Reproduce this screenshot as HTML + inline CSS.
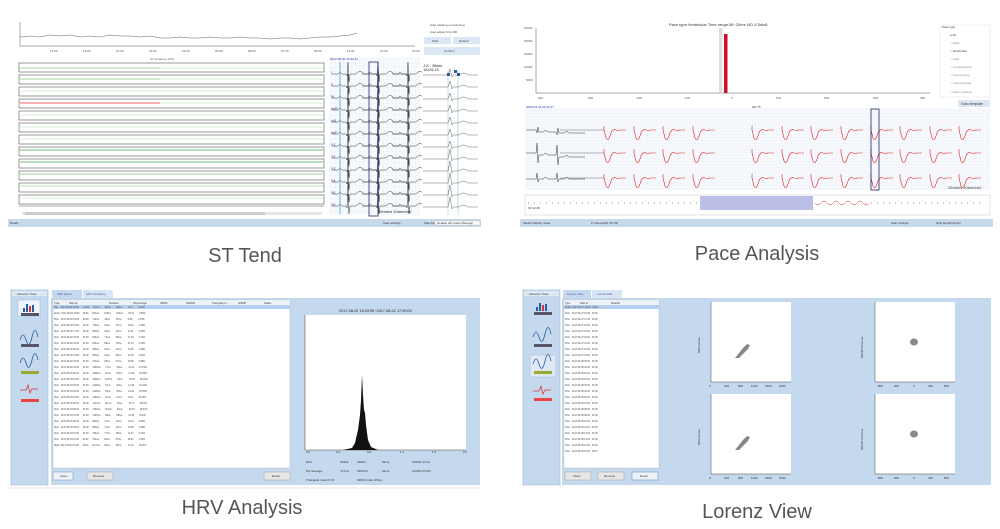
<!DOCTYPE html>
<html><head><meta charset="utf-8"><style>
body{margin:0;width:1000px;height:529px;background:#fff;position:relative;overflow:hidden;font-family:"Liberation Sans",sans-serif}
.a{position:absolute}
.cap{position:absolute;font-size:20px;color:#555;text-align:center;width:300px}
svg text{white-space:pre}
</style></head><body>
<svg class="a" style="left:0;top:0" width="1000" height="529" viewBox="0 0 1000 529">
<defs>
<pattern id="g" width="4" height="4" patternUnits="userSpaceOnUse"><path d="M4 0V4H0" fill="none" stroke="#c9dcef" stroke-width="0.4"/></pattern>
<pattern id="g2" width="3" height="3" patternUnits="userSpaceOnUse"><path d="M3 0V3H0" fill="none" stroke="#d6e4f2" stroke-width="0.4"/></pattern>
<path id="beat" d="M0 0H6q2-3 4 0H14l1 2 1-14 1 20 1-8H24q4-5 8 0H45" fill="none" stroke="#333" stroke-width="0.5"/>
<path id="pbeat" d="M0 0v-4v4l2 8q2 4 4-2 2-8 6-6 3 1 4 0H22" fill="none" stroke="#d22" stroke-width="0.6"/>
</defs>
<!-- ST panel -->
<rect x="8" y="15" width="475" height="213" fill="#fff"/>
<line x1="20" y1="46" x2="415" y2="46" stroke="#555" stroke-width="0.5"/>
<line x1="20" y1="22" x2="20" y2="46" stroke="#555" stroke-width="0.5"/>
<path d="M20 37 l10-1 10 1 10-2 10 1 10 -1 10 2 10-1 10 1 10-2 10 1 10 0 10 1 10-1 10 2 10 0 10-1 10 1 10 0 10 -1 10 1 10 0 10-1 10 1 10 0 10 1 10-1 10 0 10 1 10-1 10-1 10 0 10 -1 10 -1 7 -2" fill="none" stroke="#666" stroke-width="0.6"/>
<g font-size="3" fill="#555"><text x="50" y="52">17:00</text><text x="83" y="52">19:00</text><text x="116" y="52">21:00</text><text x="149" y="52">23:00</text><text x="182" y="52">01:00</text><text x="215" y="52">03:00</text><text x="248" y="52">05:00</text><text x="281" y="52">07:00</text><text x="314" y="52">09:00</text><text x="347" y="52">11:00</text><text x="380" y="52">13:00</text><text x="412" y="52">15:00</text>
<text x="150" y="60">ST tendency (mV)</text></g>
<rect x="424" y="37" width="27" height="7" fill="#dbe7f4"/><rect x="453" y="37" width="27" height="7" fill="#dbe7f4"/><rect x="424" y="47" width="56" height="8" fill="#dbe7f4"/>
<g font-size="3" fill="#444"><text x="430" y="26">Auto tracking on scanning</text><text x="430" y="33">Auto adjust K by RR</text><text x="432" y="42">Start</text><text x="459" y="42">Default</text><text x="444" y="52">Confirm</text></g>
<g id="strows">
<rect x="19" y="63" width="305" height="9" fill="#fff" stroke="#555" stroke-width="0.6"/><line x1="20" y1="68" x2="160" y2="68" stroke="#4a4" stroke-width="0.6"/><line x1="160" y1="68" x2="323" y2="68" stroke="#9d9" stroke-width="0.4"/>
<rect x="19" y="75" width="305" height="9" fill="#fff" stroke="#555" stroke-width="0.6"/><line x1="20" y1="79" x2="160" y2="79" stroke="#4a4" stroke-width="0.6"/><line x1="160" y1="79" x2="323" y2="79" stroke="#9d9" stroke-width="0.4"/>
<rect x="19" y="87" width="305" height="9" fill="#fff" stroke="#555" stroke-width="0.6"/><line x1="20" y1="91" x2="323" y2="91" stroke="#9d9" stroke-width="0.4"/>
<rect x="19" y="99" width="305" height="9" fill="#fff" stroke="#555" stroke-width="0.6"/><line x1="20" y1="103" x2="160" y2="103" stroke="#e33" stroke-width="0.8"/><line x1="160" y1="103" x2="323" y2="103" stroke="#9d9" stroke-width="0.4"/>
<rect x="19" y="111" width="305" height="9" fill="#fff" stroke="#555" stroke-width="0.6"/><line x1="20" y1="115" x2="323" y2="115" stroke="#9d9" stroke-width="0.4"/>
<rect x="19" y="123" width="305" height="9" fill="#fff" stroke="#555" stroke-width="0.6"/><line x1="20" y1="127" x2="323" y2="127" stroke="#9d9" stroke-width="0.4"/>
<rect x="19" y="135" width="305" height="9" fill="#fff" stroke="#555" stroke-width="0.6"/><line x1="20" y1="139" x2="323" y2="139" stroke="#9d9" stroke-width="0.4"/>
<rect x="19" y="147" width="305" height="9" fill="#fff" stroke="#555" stroke-width="0.6"/><line x1="20" y1="150" x2="323" y2="150" stroke="#4a4" stroke-width="0.7"/>
<rect x="19" y="159" width="305" height="9" fill="#fff" stroke="#555" stroke-width="0.6"/><line x1="20" y1="162" x2="323" y2="162" stroke="#4a4" stroke-width="0.7"/>
<rect x="19" y="171" width="305" height="9" fill="#fff" stroke="#555" stroke-width="0.6"/><line x1="20" y1="174" x2="323" y2="174" stroke="#4a4" stroke-width="0.6"/>
<rect x="19" y="183" width="305" height="9" fill="#fff" stroke="#555" stroke-width="0.6"/><line x1="20" y1="186" x2="323" y2="186" stroke="#7c7" stroke-width="0.5"/>
<rect x="19" y="195" width="305" height="9" fill="#fff" stroke="#555" stroke-width="0.6"/><line x1="20" y1="198" x2="323" y2="198" stroke="#9d9" stroke-width="0.4"/>
</g>
<line x1="19" y1="206" x2="324" y2="206" stroke="#555" stroke-width="0.5"/>
<rect x="22" y="212" width="300" height="3" fill="#e6e6e6"/><rect x="25" y="212" width="240" height="3" fill="#ccc"/>
<rect x="329" y="57" width="91" height="158" fill="url(#g)"/><rect x="329" y="57" width="91" height="158" fill="#eef4fb" opacity="0.4"/>
<g font-size="3" fill="#33a"><text x="330" y="60">2017-08-02 15:04:12</text></g>
<g fill="#338" font-size="3.5"><text x="331" y="74">I</text><text x="331" y="86">II</text><text x="331" y="98">III</text><text x="331" y="110">aVR</text><text x="331" y="122">aVL</text><text x="331" y="134">aVF</text><text x="331" y="146">V1</text><text x="331" y="158">V2</text><text x="331" y="170">V3</text><text x="331" y="182">V4</text><text x="331" y="194">V5</text><text x="331" y="206">V6</text></g>
<g id="ecgcol"><use href="#beat" x="332" y="74"/><use href="#beat" x="362" y="74"/><use href="#beat" x="392" y="74"/></g>
<use href="#ecgcol" y="12"/><use href="#ecgcol" y="24"/><use href="#ecgcol" y="36"/><use href="#ecgcol" y="48"/><use href="#ecgcol" y="60"/><use href="#ecgcol" y="72"/><use href="#ecgcol" y="84"/><use href="#ecgcol" y="96"/><use href="#ecgcol" y="108"/><use href="#ecgcol" y="120"/><use href="#ecgcol" y="132"/>
<line x1="340" y1="62" x2="340" y2="214" stroke="#3ad" stroke-width="0.8"/>
<rect x="369" y="62" width="9" height="154" fill="none" stroke="#226" stroke-width="0.8"/>
<text x="378" y="213" font-size="4" fill="#222">25mm/s 10mm/mV</text>
<rect x="422" y="62" width="58" height="153" fill="#fff"/>
<text x="423" y="67" font-size="4" fill="#222">J-K : 58ms</text><text x="423" y="71" font-size="4" fill="#222">15:04:13</text>
<line x1="448" y1="70" x2="448" y2="215" stroke="#8cd" stroke-width="0.6"/><line x1="458" y1="70" x2="458" y2="215" stroke="#8cd" stroke-width="0.6"/>
<rect x="447" y="73" width="3" height="3" fill="#2d5aa8"/><rect x="454" y="70" width="3" height="3" fill="#2d5aa8"/><rect x="457" y="73" width="3" height="3" fill="#2d5aa8"/>
<g stroke="#444" fill="none" stroke-width="0.4"><path d="M423 75H448l2-6 2 8 1-2h6q5-4 9 0h10"/><path d="M423 87H448l2-6 2 8 1-2h6q5-4 9 0h10"/><path d="M423 99H448l2-6 2 8 1-2h6q5-4 9 0h10"/><path d="M423 111H448l2-6 2 8 1-2h6q5-4 9 0h10"/><path d="M423 123H448l2-6 2 8 1-2h6q5-4 9 0h10"/><path d="M423 135H448l2-6 2 8 1-2h6q5-4 9 0h10"/><path d="M423 147H448l2-6 2 8 1-2h6q5-4 9 0h10"/><path d="M423 159H448l2-10 2 12 1-2h6q5-4 9 0h10"/><path d="M423 171H448l2-10 2 12 1-2h6q5-4 9 0h10"/><path d="M423 183H448l2-10 2 12 1-2h6q5-4 9 0h10"/><path d="M423 195H448l2-10 2 12 1-2h6q5-4 9 0h10"/><path d="M423 207H448l2-10 2 12 1-2h6q5-4 9 0h10"/></g>
<rect x="8" y="219" width="473" height="8" fill="#c8d9ec"/><rect x="435" y="221" width="45" height="4" fill="#fff" stroke="#99a" stroke-width="0.3"/>
<g font-size="3" fill="#333"><text x="10" y="224">Ready</text><text x="383" y="224">Gain settings</text><text x="424" y="224">Step len</text><text x="437" y="224">Realtek HD Audio Manager</text></g>

<!-- Pace panel -->
<line x1="536" y1="93" x2="930" y2="93" stroke="#555" stroke-width="0.5"/><line x1="536" y1="28" x2="536" y2="93" stroke="#555" stroke-width="0.5"/>
<text x="669" y="26" font-size="4" fill="#333">Pace type:Ventricular Time range:38~20ms NO.1/Total1</text>
<g font-size="3" fill="#555"><text x="524" y="29">40000</text><text x="524" y="42">30000</text><text x="524" y="55">20000</text><text x="524" y="68">10000</text><text x="526" y="81">5000</text><text x="537" y="99">-400</text><text x="587" y="99">-300</text><text x="636" y="99">-200</text><text x="684" y="99">-100</text><text x="731" y="99">0</text><text x="776" y="99">100</text><text x="824" y="99">200</text><text x="873" y="99">300</text><text x="920" y="99">400</text></g>
<rect x="719" y="28" width="3.5" height="65" fill="#ddd"/><rect x="724" y="34" width="3.5" height="59" fill="#c8102e"/>
<rect x="940" y="25" width="50" height="72" fill="#fff" stroke="#ddd" stroke-width="0.4"/>
<g font-size="3" fill="#888"><text x="942" y="28" fill="#333">Pace type</text><text x="950" y="36" fill="#333">● All</text><text x="950" y="44">○ Atrial</text><text x="950" y="52" fill="#333">○ Ventricular</text><text x="950" y="60">○ Dual</text><text x="950" y="68">○ Uncategorized</text><text x="950" y="76">○ Oversensing</text><text x="950" y="84">○ Undersensing</text><text x="950" y="93">○ Fail to capture</text></g>
<rect x="958" y="100" width="32" height="7" fill="#dbe7f4"/><text x="961" y="105" font-size="3.5" fill="#333">Goto template</text>
<rect x="525" y="108" width="465" height="82" fill="url(#g2)"/><rect x="525" y="108" width="465" height="82" fill="#eaf2fa" opacity="0.35"/>
<text x="526" y="108" font-size="3" fill="#33a">2000-01-02 00:43:47</text><text x="752" y="108" font-size="3" fill="#333">HR 75</text>
<g fill="none" stroke="#333" stroke-width="0.5"><path d="M526 130h10l1 3 1-6 1 5h4q3-3 5 0h8l1 3 1-7 1 5h5q3-3 5 0h16"/><path d="M526 153h10l1-10 1 20 1-8h4q3-3 5 0h8l1-10 1 20 1-8h5q3-3 5 0h16"/><path d="M526 179h10l1-6 1 9 1-3h4q3-3 5 0h8l1-6 1 9 1-3h5q3-3 5 0h16"/></g>
<g id="pcol"><use href="#pbeat" x="604" y="130"/><use href="#pbeat" x="634" y="130"/><use href="#pbeat" x="663" y="130"/><use href="#pbeat" x="693" y="130"/><use href="#pbeat" x="752" y="130"/><use href="#pbeat" x="782" y="130"/><use href="#pbeat" x="811" y="130"/><use href="#pbeat" x="841" y="130"/><use href="#pbeat" x="871" y="130"/><use href="#pbeat" x="900" y="130"/><use href="#pbeat" x="930" y="130"/><use href="#pbeat" x="959" y="130"/></g>
<use href="#pcol" y="23"/>
<use href="#pcol" y="48"/>
<path d="M560 130h44M560 153h44M560 178h44" stroke="#444" stroke-width="0.4"/>
<rect x="871" y="109" width="8" height="81" fill="none" stroke="#226" stroke-width="0.8"/>
<text x="948" y="189" font-size="4" fill="#333">25mm/s 10mm/mV</text>
<rect x="525" y="195" width="465" height="20" fill="#fff" stroke="#bbb" stroke-width="0.4"/>
<rect x="700" y="196" width="113" height="14" fill="#9ea3dd" opacity="0.7"/>
<path d="M528 203h170" stroke="#333" stroke-width="0.5" stroke-dasharray="1 5"/>
<path d="M815 203q3 4 6 0t6 0t6 0t6 0t6 0t6 0t6 0t6 0t6 0" fill="none" stroke="#d33" stroke-width="0.5"/>
<path d="M865 203h120" stroke="#333" stroke-width="0.5" stroke-dasharray="1 5"/>
<text x="528" y="209" font-size="3" fill="#333">00:42:48</text>
<rect x="520" y="219" width="473" height="8" fill="#c8d9ec"/>
<g font-size="3" fill="#333"><text x="523" y="224">Switch display mode</text><text x="591" y="224">2 channels(II V2 V5)</text><text x="891" y="224">Gain settings</text><text x="936" y="224">Strip length(20.0s)</text></g>

<!-- HRV panel -->
<rect x="11" y="290" width="37" height="195" fill="#c5d9ee" stroke="#9bb8d8" stroke-width="0.6"/>
<rect x="12" y="291" width="35" height="5" fill="#dfe9f5"/><text x="17" y="295" font-size="3" fill="#333">Advance Tools</text>
<rect x="18" y="300" width="22" height="16" fill="#eef4fb" stroke="#9bb8d8" stroke-width="0.5"/>
<g fill="#2a5aa0"><rect x="23" y="308" width="2" height="4"/><rect x="26" y="304" width="2" height="8"/><rect x="29" y="306" width="2" height="6" fill="#d33"/><rect x="32" y="305" width="2" height="7"/></g>
<rect x="21" y="313" width="18" height="3" fill="#556"/>
<path d="M20 340q3-10 6 0t6-3 6 0" fill="none" stroke="#2a5aa0" stroke-width="0.8"/><rect x="21" y="344" width="18" height="3" fill="#556"/>
<path d="M20 363q3-10 6 0t6-3 6 0" fill="none" stroke="#2a5aa0" stroke-width="0.8"/><rect x="21" y="371" width="18" height="3" fill="#9a3"/>
<path d="M20 390h6l2-5 2 8 2-4h6" fill="none" stroke="#d33" stroke-width="0.8"/><rect x="21" y="399" width="18" height="3" fill="#e44"/>
<rect x="51" y="298" width="429" height="187" fill="#c5d9ee"/>
<rect x="52" y="290" width="30" height="8" fill="#c5d9ee"/><rect x="83" y="290" width="30" height="8" fill="#d8e5f3"/>
<g font-size="3" fill="#55a"><text x="57" y="295">HRV Event</text><text x="86" y="295">HRV Tendency</text></g>
<rect x="53" y="300" width="237" height="168" fill="#fff" stroke="#99b" stroke-width="0.3"/>
<rect x="53" y="300" width="237" height="5" fill="#eef2f7"/>
<rect x="53" y="305" width="237" height="4" fill="#b5d0ee"/>
<g font-size="2.6" fill="#333"><text x="54" y="304">Type</text><text x="69" y="304">Start at</text><text x="109" y="304">Duration</text><text x="133" y="304">NN average</text><text x="160" y="304">SDNN</text><text x="186" y="304">SDANN</text><text x="212" y="304">Triangular in...</text><text x="238" y="304">pNN50</text><text x="264" y="304">Status</text></g>
<g font-size="2.3" fill="#444">
<text x="54" y="308">Day    2017-08-02 16:00       01:00      747ms        52ms         36ms          9.74         0.51%</text>
<text x="54" y="314">Entire  2017-08-02 15:00     20:59      920ms        108ms        100ms        33.31        0.86%</text>
<text x="54" y="320">Hour   2017-08-02 15:00      00:58      742ms        49ms         32ms          8.60         0.75%</text>
<text x="54" y="326">Hour   2017-08-02 16:00      01:00      735ms        51ms         37ms          10.84        0.38%</text>
<text x="54" y="332">Hour   2017-08-02 17:00      01:00      809ms        45ms         42ms          13.01        0.05%</text>
<text x="54" y="338">Hour   2017-08-02 18:00      01:00      815ms        71ms         58ms          17.18        1.74%</text>
<text x="54" y="344">Hour   2017-08-02 19:00      01:00      834ms        89ms         75ms          21.34        2.36%</text>
<text x="54" y="350">Hour   2017-08-02 20:00      01:00      838ms        61ms         42ms          13.95        1.28%</text>
<text x="54" y="356">Hour   2017-08-02 21:00      01:00      905ms        61ms         69ms          14.94        2.61%</text>
<text x="54" y="362">Hour   2017-08-02 22:00      01:00      872ms        86ms         67ms          16.58        2.88%</text>
<text x="54" y="368">Hour   2017-08-02 23:00      01:00      1084ms       77ms         36ms          11.22        14.75%</text>
<text x="54" y="374">Hour   2017-08-03 00:00      01:00      1088ms       61ms         53ms          17.06        15.35%</text>
<text x="54" y="380">Hour   2017-08-03 01:00      01:00      1099ms       107ms        73ms          18.09        26.22%</text>
<text x="54" y="386">Hour   2017-08-03 02:00      01:00      1128ms       73ms         38ms          14.38        16.22%</text>
<text x="54" y="392">Hour   2017-08-03 03:00      01:00      1140ms       78ms         32ms          13.02        18.55%</text>
<text x="54" y="398">Hour   2017-08-03 04:00      01:00      1162ms       72ms         24ms          9.45         25.30%</text>
<text x="54" y="404">Hour   2017-08-03 05:00      01:00      1127ms       111ms        75ms          15.71        18.57%</text>
<text x="54" y="410">Hour   2017-08-03 06:00      01:00      1153ms       101ms        63ms          18.23        18.57%</text>
<text x="54" y="416">Hour   2017-08-03 07:00      01:00      1046ms       63ms         58ms          11.38        3.32%</text>
<text x="54" y="422">Hour   2017-08-03 08:00      01:00      882ms        71ms         44ms          13.44        0.88%</text>
<text x="54" y="428">Hour   2017-08-03 09:00      01:00      805ms        71ms         40ms          13.88        1.88%</text>
<text x="54" y="434">Hour   2017-08-03 10:00      01:00      780ms        77ms         38ms          14.47        0.44%</text>
<text x="54" y="440">Hour   2017-08-03 11:00      00:02      794ms        84ms         57ms          18.83        1.49%</text>
<text x="54" y="446">Night  2017-08-03 13:00      06:00      1117ms       86ms         59ms          17.15        18.47%</text>
</g>
<rect x="53" y="472" width="20" height="8" fill="#eef2f7" stroke="#6a9ad0" stroke-width="0.5"/><rect x="87" y="472" width="26" height="8" fill="#e6e6e6" stroke="#999" stroke-width="0.4"/><rect x="264" y="472" width="26" height="8" fill="#e6e6e6" stroke="#999" stroke-width="0.4"/>
<g font-size="3" fill="#333"><text x="60" y="477">Insert</text><text x="93" y="477">Remove</text><text x="272" y="477">Reset</text></g>
<rect x="293" y="300" width="184" height="168" fill="#c5d9ee"/>
<text x="339" y="312" font-size="3.8" fill="#222">2017-08-02 15:03:55~2017-08-02 17:00:00</text>
<rect x="305" y="315" width="161" height="135" fill="#fff"/>
<path d="M305 315v135h161" stroke="#444" stroke-width="0.5" fill="none"/>
<path d="M343 450 L352 448 355 443 358 430 360 415 361 400 362 375 363 395 364 410 365 413 366 425 368 440 371 447 378 450Z" fill="#111"/>
<g font-size="3" fill="#333"><text x="306" y="453">0.0</text><text x="336" y="453">0.4</text><text x="367" y="453">0.8</text><text x="400" y="453">1.2</text><text x="432" y="453">1.6</text><text x="463" y="453">2.0</text>
<text x="306" y="463">NNs:</text><text x="340" y="463">92918</text><text x="357" y="463">SDNN:</text><text x="382" y="463">52ms</text><text x="412" y="463">rMSSD:13ms</text>
<text x="306" y="472">NN average:</text><text x="340" y="472">747ms</text><text x="357" y="472">SDANN:</text><text x="382" y="472">36ms</text><text x="412" y="472">pNN50:0.51%</text>
<text x="306" y="481">Triangular index:9.74</text><text x="357" y="481">SDNN Index:35ms</text></g>
<line x1="8" y1="488" x2="480" y2="488" stroke="#e4e4e4"/>

<!-- Lorenz panel -->
<rect x="523" y="290" width="37" height="195" fill="#c5d9ee" stroke="#9bb8d8" stroke-width="0.6"/>
<rect x="524" y="291" width="35" height="5" fill="#dfe9f5"/><text x="529" y="295" font-size="3" fill="#333">Advance Tools</text>
<g fill="#2a5aa0"><rect x="536" y="307" width="2" height="4"/><rect x="539" y="303" width="2" height="8"/><rect x="542" y="305" width="2" height="6" fill="#d33"/><rect x="545" y="304" width="2" height="7"/></g>
<rect x="534" y="312" width="18" height="3" fill="#556"/>
<path d="M533 337q3-10 6 0t6-3 6 0" fill="none" stroke="#2a5aa0" stroke-width="0.8"/><rect x="534" y="344" width="18" height="3" fill="#556"/>
<rect x="530" y="355" width="26" height="22" fill="#dfe9f5" stroke="#9bb8d8" stroke-width="0.5"/>
<path d="M533 364q3-10 6 0t6-3 6 0" fill="none" stroke="#2a5aa0" stroke-width="0.8"/><rect x="534" y="371" width="18" height="3" fill="#9a3"/>
<path d="M533 391h6l2-5 2 8 2-4h6" fill="none" stroke="#d33" stroke-width="0.8"/><rect x="534" y="398" width="18" height="3" fill="#e44"/>
<rect x="562" y="298" width="429" height="187" fill="#c5d9ee"/>
<rect x="563" y="290" width="28" height="8" fill="#c5d9ee"/><rect x="592" y="290" width="30" height="8" fill="#d8e5f3"/>
<g font-size="3" fill="#55a"><text x="567" y="295">Lorenz View</text><text x="597" y="295">Lorenz Edit</text></g>
<rect x="564" y="300" width="95" height="168" fill="#fff" stroke="#99b" stroke-width="0.3"/>
<rect x="564" y="300" width="95" height="5" fill="#eef2f7"/><rect x="564" y="305" width="95" height="4" fill="#b5d0ee"/>
<g font-size="2.4" fill="#333"><text x="565" y="304">Type</text><text x="580" y="304">Start at</text><text x="611" y="304">Duration</text></g>
<g font-size="2.3" fill="#444">
<text x="565" y="308">Entire  2017-06-27 16:20   23:00</text><text x="565" y="314">Hour   2017-06-27 16:20   00:00</text><text x="565" y="320">Hour   2017-06-27 17:00   01:00</text><text x="565" y="326">Hour   2017-06-27 18:00   01:00</text><text x="565" y="332">Hour   2017-06-27 19:00   01:00</text><text x="565" y="338">Hour   2017-06-27 20:00   01:00</text><text x="565" y="344">Hour   2017-06-27 21:00   01:00</text><text x="565" y="350">Hour   2017-06-27 22:00   01:00</text><text x="565" y="356">Hour   2017-06-27 23:00   01:00</text><text x="565" y="362">Hour   2017-06-28 00:00   01:00</text><text x="565" y="368">Hour   2017-06-28 01:00   01:00</text><text x="565" y="374">Hour   2017-06-28 02:00   01:00</text><text x="565" y="380">Hour   2017-06-28 03:00   01:00</text><text x="565" y="386">Hour   2017-06-28 04:00   01:00</text><text x="565" y="392">Hour   2017-06-28 05:00   01:00</text><text x="565" y="398">Hour   2017-06-28 06:00   01:00</text><text x="565" y="404">Hour   2017-06-28 07:00   01:00</text><text x="565" y="410">Hour   2017-06-28 08:00   01:00</text><text x="565" y="416">Hour   2017-06-28 09:00   01:00</text><text x="565" y="422">Hour   2017-06-28 10:00   01:00</text><text x="565" y="428">Hour   2017-06-28 11:00   01:00</text><text x="565" y="434">Hour   2017-06-28 12:00   01:00</text><text x="565" y="440">Hour   2017-06-28 13:00   01:00</text><text x="565" y="446">Hour   2017-06-28 14:00   01:00</text><text x="565" y="452">Hour   2017-06-28 15:00   00:47</text></g>
<rect x="565" y="472" width="26" height="8" fill="#e6e6e6" stroke="#999" stroke-width="0.4"/><rect x="598" y="472" width="26" height="8" fill="#e6e6e6" stroke="#999" stroke-width="0.4"/><rect x="632" y="472" width="26" height="8" fill="#eef2f7" stroke="#6a9ad0" stroke-width="0.6"/>
<g font-size="3" fill="#333"><text x="573" y="477">Insert</text><text x="604" y="477">Remove</text><text x="640" y="477">Reset</text></g>
<g id="lz1"><rect x="711" y="302" width="80" height="80" fill="#fff"/><path d="M711 302v80h80" stroke="#444" stroke-width="0.5" fill="none"/>
<path d="M735 358l8-10 4-4 3 1-2 4-9 9z" fill="#888"/></g>
<use href="#lz1" y="92"/>
<g id="lz2"><rect x="875" y="302" width="80" height="80" fill="#fff"/><path d="M875 302v80h80" stroke="#444" stroke-width="0.5" fill="none"/>
<ellipse cx="914" cy="342" rx="4" ry="3.5" fill="#888"/></g>
<use href="#lz2" y="92"/>
<g font-size="3" fill="#333"><text x="700" y="353" transform="rotate(-90 700 353)">RRPoincare</text><text x="700" y="445" transform="rotate(-90 700 445)">NNPoincare</text><text x="863" y="358" transform="rotate(-90 863 358)">RRDiff Poincare</text><text x="863" y="450" transform="rotate(-90 863 450)">NNDiff Poincare</text>
<text x="709" y="387">0</text><text x="724" y="387">400</text><text x="738" y="387">800</text><text x="751" y="387">1200</text><text x="765" y="387">1600</text><text x="779" y="387">2000</text>
<text x="709" y="479">0</text><text x="724" y="479">400</text><text x="738" y="479">800</text><text x="751" y="479">1200</text><text x="765" y="479">1600</text><text x="779" y="479">2000</text>
<text x="877" y="387">-800</text><text x="893" y="387">-400</text><text x="913" y="387">0</text><text x="928" y="387">400</text><text x="944" y="387">800</text>
<text x="877" y="479">-800</text><text x="893" y="479">-400</text><text x="913" y="479">0</text><text x="928" y="479">400</text><text x="944" y="479">800</text></g>
</svg>
<div class="cap" style="left:95px;top:245px">ST Tend</div>
<div class="cap" style="left:607px;top:243px">Pace Analysis</div>
<div class="cap" style="left:92px;top:497px">HRV Analysis</div>
<div class="cap" style="left:607px;top:501px">Lorenz View</div>
</body></html>
